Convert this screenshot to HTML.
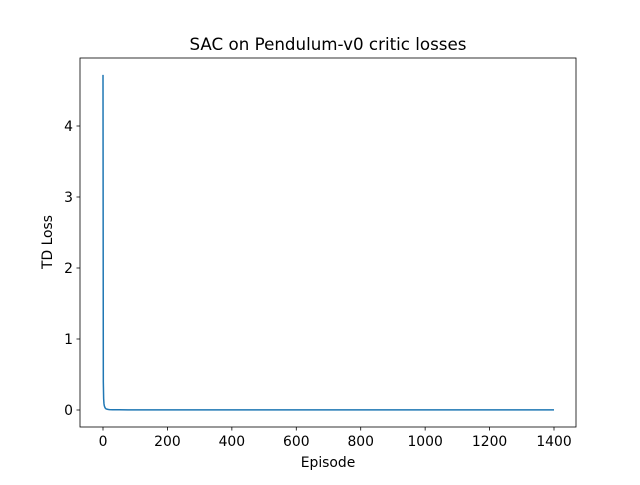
<!DOCTYPE html>
<html><head><meta charset="utf-8"><style>
body{margin:0;background:#fff;font-family:"Liberation Sans","DejaVu Sans",sans-serif}
</style></head><body>
<svg id="chart" width="640" height="480" xmlns="http://www.w3.org/2000/svg" font-family="DejaVu Sans, Liberation Sans, sans-serif">
<rect width="640" height="480" fill="#fff"/>
<g id="plot"></g>
</svg>
<script>
const episodes=[0,1,2,3,4,6,8,10,15,20,30,50,100,300,600,1000,1400];
const losses=[4.72,0.40,0.16,0.09,0.06,0.035,0.022,0.015,0.009,0.006,0.004,0.003,0.002,0.002,0.002,0.002,0.002];
const xTicks=[0,200,400,600,800,1000,1200,1400];
const yTicks=[0,1,2,3,4];
const L=80,R=576,T=58,B=427;
const xs=v=>103+(v/1400)*(554-103);
const ys=v=>410-v*(410-126)/4;
const ns="http://www.w3.org/2000/svg";
const g=document.getElementById('plot');
function mk(t,a,txt){const e=document.createElementNS(ns,t);for(const k in a)e.setAttribute(k,a[k]);if(txt!==undefined)e.textContent=txt;g.appendChild(e);return e;}
let d=episodes.map((x,i)=>(i?'L':'M')+xs(x).toFixed(2)+','+ys(losses[i]).toFixed(2)).join(' ');
const line=mk('path',{d:d,fill:'none',stroke:'#1f77b4','stroke-width':1.5});


const frame=mk('rect',{x:L,y:T,width:R-L,height:B-T,fill:'none',stroke:'#000','stroke-width':0.8});


xTicks.forEach(v=>{const x=xs(v);mk('line',{x1:x,x2:x,y1:B,y2:B+3.5,stroke:'#000','stroke-width':0.8});
const t=mk('text',{x:x,y:B+19,'text-anchor':'middle','font-size':13.9},String(v));

});
yTicks.forEach(v=>{const y=ys(v);mk('line',{x1:L-3.5,x2:L,y1:y,y2:y,stroke:'#000','stroke-width':0.8});
const t=mk('text',{x:L-7,y:y+5,'text-anchor':'end','font-size':13.9},String(v));

});
const ti=mk('text',{x:328,y:50,'text-anchor':'middle','font-size':16.7},'SAC on Pendulum-v0 critic losses');


const xl=mk('text',{x:328,y:467,'text-anchor':'middle','font-size':13.9},'Episode');


const yl=mk('text',{x:0,y:0,'text-anchor':'middle','font-size':13.9,transform:'translate(52,242) rotate(-90)'},'TD Loss');


</script>
</body></html>
